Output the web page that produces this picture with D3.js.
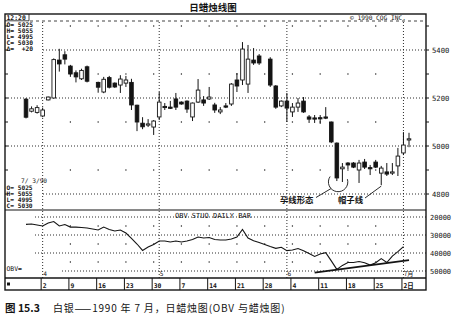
<!DOCTYPE html>
<html>
<head>
<meta charset="utf-8">
<script src="https://cdn.jsdelivr.net/npm/d3@7"></script>
<style>
  body { margin: 0; background: #fff; }
  svg { display: block; }
</style>
</head>
<body>
<svg id="chart"></svg>
<script>
// daily silver candles, late March - early July 1990
const dates = [
  "1990-03-28", "1990-03-29", "1990-03-30", "1990-04-02", "1990-04-03", "1990-04-04", "1990-04-05", "1990-04-06",
  "1990-04-09", "1990-04-10", "1990-04-11", "1990-04-12", "1990-04-16", "1990-04-17", "1990-04-18", "1990-04-19",
  "1990-04-20", "1990-04-23", "1990-04-24", "1990-04-25", "1990-04-26", "1990-04-27", "1990-04-30", "1990-05-01",
  "1990-05-02", "1990-05-03", "1990-05-04", "1990-05-07", "1990-05-08", "1990-05-09", "1990-05-10", "1990-05-11",
  "1990-05-14", "1990-05-15", "1990-05-16", "1990-05-17", "1990-05-18", "1990-05-21", "1990-05-22", "1990-05-23",
  "1990-05-24", "1990-05-25", "1990-05-29", "1990-05-30", "1990-05-31", "1990-06-01", "1990-06-04", "1990-06-05",
  "1990-06-06", "1990-06-07", "1990-06-08", "1990-06-11", "1990-06-12", "1990-06-13", "1990-06-14", "1990-06-15",
  "1990-06-18", "1990-06-19", "1990-06-20", "1990-06-21", "1990-06-22", "1990-06-25", "1990-06-26", "1990-06-27",
  "1990-06-28", "1990-06-29", "1990-07-02", "1990-07-03"
];
const opens = [
  5195, 5145, 5140, 5125, 5192, 5200, 5358, 5380, 5333, 5305, 5280, 5330, 5265, 5225, 5285, 5262,
  5254, 5262, 5265, 5170, 5095, 5090, 5079, 5121, 5165, 5162, 5196, 5183, 5187, 5121, 5183, 5192,
  5196, 5171, 5142, 5167, 5175, 5275, 5275, 5258, 5358, 5375, 5362, 5250, 5167, 5187, 5142, 5162,
  5187, 5121, 5117, 5118, 5121, 5100, 5012, 4905, 4929, 4929, 4900, 4933, 4910, 4933, 4887, 4892,
  4890, 4917, 4971, 5025
];
const highs = [
  5200, 5165, 5170, 5160, 5206, 5365, 5405, 5395, 5338, 5315, 5322, 5335, 5268, 5288, 5292, 5265,
  5295, 5292, 5280, 5172, 5120, 5112, 5108, 5225, 5179, 5188, 5221, 5186, 5190, 5181, 5279, 5208,
  5246, 5180, 5162, 5179, 5262, 5304, 5433, 5421, 5408, 5383, 5370, 5254, 5190, 5221, 5179, 5200,
  5204, 5129, 5129, 5129, 5162, 5102, 5015, 4929, 4933, 4933, 4942, 4946, 4921, 4942, 4917, 4929,
  4929, 4992, 5058, 5055
];
const lows = [
  5115, 5140, 5135, 5120, 5190, 5198, 5310, 5340, 5288, 5265, 5275, 5265, 5222, 5220, 5240, 5242,
  5221, 5246, 5150, 5062, 5070, 5079, 5046, 5108, 5150, 5154, 5150, 5172, 5138, 5104, 5179, 5167,
  5192, 5138, 5133, 5158, 5167, 5225, 5254, 5221, 5338, 5338, 5246, 5155, 5162, 5100, 5121, 5142,
  5138, 5096, 5096, 5092, 5112, 5012, 4854, 4850, 4904, 4908, 4846, 4904, 4879, 4908, 4837, 4875,
  4879, 4875, 4962, 4995
];
const closes = [
  5120, 5155, 5160, 5150, 5204, 5360, 5342, 5362, 5300, 5288, 5315, 5270, 5245, 5278, 5245, 5246,
  5279, 5275, 5171, 5100, 5080, 5092, 5104, 5183, 5160, 5160, 5162, 5175, 5154, 5179, 5233, 5179,
  5204, 5150, 5150, 5162, 5258, 5250, 5404, 5362, 5346, 5346, 5254, 5162, 5187, 5158, 5162, 5179,
  5142, 5112, 5115, 5114, 5119, 5017, 4867, 4912, 4921, 4912, 4929, 4912, 4908, 4912, 4908, 4883,
  4892, 4958, 5004, 5030
];
// OBV, read against the printed scale (runs through 7/2)
const obvValues = [
  24100, 23900, 24400, 25000, 23300, 22500, 25000, 24200, 25600, 25600, 25800, 26100, 27200, 25600, 26900, 27800,
  27200, 28900, 31900, 35000, 38600, 36700, 35300, 33300, 33300, 33900, 33300, 33900, 33300, 32500, 31100, 31700,
  31400, 32500, 32800, 32800, 32200, 31100, 26900, 31700, 33200, 34200, 36400, 37400, 36800, 38700, 38300, 37500,
  38700, 40300, 41900, 40600, 39800, 44400, 49100, 46900, 45300, 45300, 44700, 45400, 46700, 45400, 43100, 45300,
  41700, 39200, 36500
];
const trendDates = ["1990-06-08", "1990-07-03"];
const trendValues = [50900, 44000];

const priceTicks = [4800, 5000, 5200, 5400];
const priceHalfTicks = [4900, 5100, 5300, 5500];
const obvTicks = [20000, 30000, 40000, 50000];
const obvHalfTicks = [25000, 35000, 45000];
const weekDates = [
  "1990-04-02", "1990-04-09", "1990-04-16", "1990-04-23", "1990-04-30", "1990-05-07", "1990-05-14",
  "1990-05-21", "1990-05-28", "1990-06-04", "1990-06-11", "1990-06-18", "1990-06-25", "1990-07-02"
];
const weekLabels = ["2", "9", "16", "23", "30", "7", "14", "21", "28", "4", "11", "18", "25", "2日"];
const monthDates = ["1990-04-02", "1990-05-01", "1990-06-01", "1990-07-02"];
const monthLabels = ["4", "5", "6", "7月"];

const topBox = ["O= 5025", "H= 5055", "L= 4995", "C= 5030", "Δ=  +20"];
const bottomBox = ["O= 5025", "H= 5055", "L= 4995", "C= 5030"];

const width = 453;
const height = 324;
const frameL = 5, frameR = 426, frameT = 14, frameMid = 210, obvBottom = 278, frameB = 290;
const ink = "#141414";
const mono = "'DejaVu Sans Mono', monospace";
const cjk = "'Noto Sans CJK SC', sans-serif";

const parse = d3.timeParse("%Y-%m-%d");
const start = parse(dates[0]);
// trading-day slot: weekdays counted from the first date (holidays stay as gaps)
function slot(s) {
  return d3.timeDay.range(start, parse(s)).filter(t => t.getDay() % 6 !== 0).length;
}

const candles = dates.map((d, i) => ({
  i: slot(d), o: opens[i], h: highs[i], l: lows[i], c: closes[i]
}));

const x = d3.scaleLinear().domain([0, 69]).range([26, 409]);
const y = d3.scaleLinear().domain([4800, 5400]).range([194, 50]);
const yObv = d3.scaleLinear().domain([20000, 50000]).range([217, 271]);

const svg = d3.select("#chart")
  .attr("width", width)
  .attr("height", height)
  .style("font-family", mono);

// title and header strip
svg.append("text")
  .attr("x", 213).attr("y", 11)
  .attr("text-anchor", "middle")
  .style("font-family", cjk).style("font-size", "9.5px").style("font-weight", "bold")
  .attr("fill", ink)
  .text("日蜡烛线图");

svg.append("text")
  .attr("x", 350).attr("y", 19.5)
  .style("font-size", "6.2px").attr("fill", ink)
  .text("©  1990 CQG INC.");

svg.append("line")
  .attr("x1", 30).attr("x2", frameR).attr("y1", 21).attr("y2", 21)
  .attr("stroke", ink).attr("stroke-width", 0.8).attr("stroke-dasharray", "3,3");

svg.append("text")
  .attr("x", 6.5).attr("y", 19.5)
  .style("font-size", "6.4px").style("font-weight", "bold").attr("fill", ink)
  .text("12:20");
svg.append("path")
  .attr("d", `M${frameL},20.8H29V${frameT}`)
  .attr("fill", "none").attr("stroke", ink).attr("stroke-width", 0.8);

// grid: price panel
const weekSlots = weekDates.map(slot);
const monthSlots = monthDates.map(slot);
const minorSlots = weekSlots.filter(s => !monthSlots.includes(s));

svg.append("g")
  .selectAll("line")
  .data(priceTicks)
  .join("line")
  .attr("x1", d => (d === 5400 || d === 4800) ? 43 : frameL)
  .attr("x2", frameR)
  .attr("y1", d => y(d)).attr("y2", d => y(d))
  .attr("stroke", ink).attr("stroke-width", 0.9).attr("stroke-dasharray", "1,2");

svg.append("g")
  .selectAll("line")
  .data(monthSlots)
  .join("line")
  .attr("x1", d => x(d)).attr("x2", d => x(d))
  .attr("y1", 22).attr("y2", obvBottom)
  .attr("stroke", ink).attr("stroke-width", 0.9).attr("stroke-dasharray", "1,2");

const dotGrid = [];
minorSlots.forEach(s => priceHalfTicks.forEach(p => dotGrid.push([x(s), y(p)])));
minorSlots.forEach(s => obvHalfTicks.forEach(v => dotGrid.push([x(s), yObv(v)])));
svg.append("g")
  .selectAll("rect")
  .data(dotGrid)
  .join("rect")
  .attr("x", d => d[0] - 0.6).attr("y", d => d[1] - 0.6)
  .attr("width", 1.2).attr("height", 1.2)
  .attr("fill", ink);

// grid: OBV panel
svg.append("g")
  .selectAll("line")
  .data(obvTicks)
  .join("line")
  .attr("x1", d => d === 50000 ? 62 : 35)
  .attr("x2", frameR)
  .attr("y1", d => yObv(d)).attr("y2", d => yObv(d))
  .attr("stroke", ink).attr("stroke-width", 0.9).attr("stroke-dasharray", "1,2");

// right-hand scales
svg.append("g")
  .selectAll("text")
  .data(priceTicks)
  .join("text")
  .attr("x", 432).attr("y", d => y(d) + 2.6)
  .style("font-size", "7.2px").attr("fill", ink)
  .text(d => d);

svg.append("g")
  .selectAll("text")
  .data(obvTicks)
  .join("text")
  .attr("x", 430).attr("y", d => yObv(d) + 2.6)
  .style("font-size", "7px").attr("fill", ink)
  .text(d => d);

const sideTicks = d3.range(4700, 5600, 100).filter(p => y(p) > frameT + 8 && y(p) < frameMid);
svg.append("g")
  .selectAll("line")
  .data(sideTicks)
  .join("line")
  .attr("x1", frameR).attr("x2", frameR + 3)
  .attr("y1", d => y(d)).attr("y2", d => y(d))
  .attr("stroke", ink).attr("stroke-width", 1);
svg.append("g")
  .selectAll("line")
  .data(sideTicks)
  .join("line")
  .attr("x1", frameL).attr("x2", frameL + 3)
  .attr("y1", d => y(d)).attr("y2", d => y(d))
  .attr("stroke", ink).attr("stroke-width", 1);

// candles
const bodyW = 3.6;
const candle = svg.append("g")
  .selectAll("g")
  .data(candles)
  .join("g");

candle.append("line")
  .attr("x1", d => x(d.i)).attr("x2", d => x(d.i))
  .attr("y1", d => y(d.h)).attr("y2", d => y(d.l))
  .attr("stroke", ink).attr("stroke-width", 1);

candle.append("rect")
  .attr("x", d => x(d.i) - bodyW / 2)
  .attr("y", d => y(Math.max(d.o, d.c)))
  .attr("width", bodyW)
  .attr("height", d => Math.max(1.2, Math.abs(y(d.o) - y(d.c))))
  .attr("fill", d => d.c > d.o ? "#fff" : ink)
  .attr("stroke", ink).attr("stroke-width", 0.9);

// data boxes
svg.append("g")
  .selectAll("text")
  .data(topBox)
  .join("text")
  .attr("x", 6.5).attr("y", (d, i) => 27 + i * 6.1)
  .style("font-size", "6.3px").style("font-weight", "bold")
  .attr("fill", ink).attr("xml:space", "preserve")
  .text(d => d);

svg.append("text")
  .attr("x", 21).attr("y", 182.6)
  .style("font-size", "6.2px").attr("fill", ink)
  .attr("xml:space", "preserve")
  .text("7/ 3/90");

svg.append("g")
  .selectAll("text")
  .data(bottomBox)
  .join("text")
  .attr("x", 6.5).attr("y", (d, i) => 190.4 + i * 5.8)
  .style("font-size", "6.2px").style("font-weight", "bold")
  .attr("fill", ink).attr("xml:space", "preserve")
  .text(d => d);

// annotations
const harami = candles.find(d => d.i === slot("1990-06-14"));
const haramiNext = candles.find(d => d.i === slot("1990-06-15"));
const hanging = candles.find(d => d.i === slot("1990-06-26"));
const cx = (x(harami.i) + x(haramiNext.i)) / 2 - 1.5;
const cy = y(haramiNext.l);
const arc = d3.path();
arc.arc(cx, cy, 9.7, -0.3, Math.PI + 0.6);
svg.append("path")
  .attr("d", arc.toString())
  .attr("fill", "none").attr("stroke", ink).attr("stroke-width", 0.9);

svg.append("line")
  .attr("x1", 316).attr("y1", 197.5)
  .attr("x2", cx - 7).attr("y2", cy + 6.5)
  .attr("stroke", ink).attr("stroke-width", 0.9);
svg.append("text")
  .attr("x", 280).attr("y", 203)
  .style("font-family", cjk).style("font-size", "8.4px").style("font-weight", "bold")
  .attr("fill", ink)
  .text("孕线形态");

svg.append("line")
  .attr("x1", 365).attr("y1", 198)
  .attr("x2", x(hanging.i)).attr("y2", y(hanging.l) + 1)
  .attr("stroke", ink).attr("stroke-width", 0.9);
svg.append("text")
  .attr("x", 338).attr("y", 203)
  .style("font-family", cjk).style("font-size", "8.4px").style("font-weight", "bold")
  .attr("fill", ink)
  .text("帽子线");

// OBV panel
svg.append("text")
  .attr("x", 175).attr("y", 217.5)
  .style("font-size", "7px").attr("fill", ink)
  .text("OBV STUO DAILY BAR");

svg.append("text")
  .attr("x", 6.5).attr("y", 271)
  .style("font-size", "6.4px").attr("fill", ink)
  .text("OBV=");

const obvLine = d3.line()
  .x(d => x(d.i))
  .y(d => yObv(d.v));

svg.append("path")
  .datum(obvValues.map((v, i) => ({ i: candles[i].i, v: v })))
  .attr("d", obvLine)
  .attr("fill", "none").attr("stroke", ink).attr("stroke-width", 1.1);

svg.append("path")
  .datum(trendDates.map((d, i) => ({ i: slot(d), v: trendValues[i] })))
  .attr("d", obvLine)
  .attr("fill", "none").attr("stroke", ink).attr("stroke-width", 1.7);

svg.append("g")
  .selectAll("text")
  .data(monthSlots)
  .join("text")
  .attr("x", d => x(d) + 0.5).attr("y", 276)
  .style("font-size", "6.2px").attr("fill", ink)
  .style("font-family", (d, i) => i === 3 ? cjk : mono)
  .text((d, i) => monthLabels[i]);

// date row
svg.append("g")
  .selectAll("line")
  .data(weekSlots)
  .join("line")
  .attr("x1", d => x(d) - 1.5).attr("x2", d => x(d) - 1.5)
  .attr("y1", obvBottom).attr("y2", frameB)
  .attr("stroke", ink).attr("stroke-width", 1);

svg.append("g")
  .selectAll("text")
  .data(weekSlots)
  .join("text")
  .attr("x", d => x(d)).attr("y", 287.5)
  .style("font-size", "6.4px").style("font-weight", "bold").attr("fill", ink)
  .style("font-family", (d, i) => i === weekSlots.length - 1 ? cjk : mono)
  .text((d, i) => weekLabels[i]);

svg.append("rect")
  .attr("x", 7).attr("y", 282.5).attr("width", 3).attr("height", 3)
  .attr("fill", ink);

// frame
svg.append("rect")
  .attr("x", frameL).attr("y", frameT)
  .attr("width", frameR - frameL).attr("height", frameB - frameT)
  .attr("fill", "none").attr("stroke", ink).attr("stroke-width", 1.4);
svg.append("line")
  .attr("x1", frameL).attr("x2", frameR).attr("y1", frameMid).attr("y2", frameMid)
  .attr("stroke", ink).attr("stroke-width", 1.2);
svg.append("line")
  .attr("x1", frameL).attr("x2", frameR).attr("y1", obvBottom).attr("y2", obvBottom)
  .attr("stroke", ink).attr("stroke-width", 1.3);

// caption
svg.append("text")
  .attr("x", 5).attr("y", 312)
  .style("font-family", cjk).style("font-size", "10.5px").style("font-weight", "bold")
  .attr("fill", ink)
  .text("图 15.3");
svg.append("text")
  .attr("x", 53).attr("y", 312)
  .style("font-family", cjk).style("font-size", "10px")
  .style("letter-spacing", "0.8px")
  .attr("fill", ink)
  .text("白银——1990 年 7 月，日蜡烛图(OBV 与蜡烛图)");
</script>
</body>
</html>
